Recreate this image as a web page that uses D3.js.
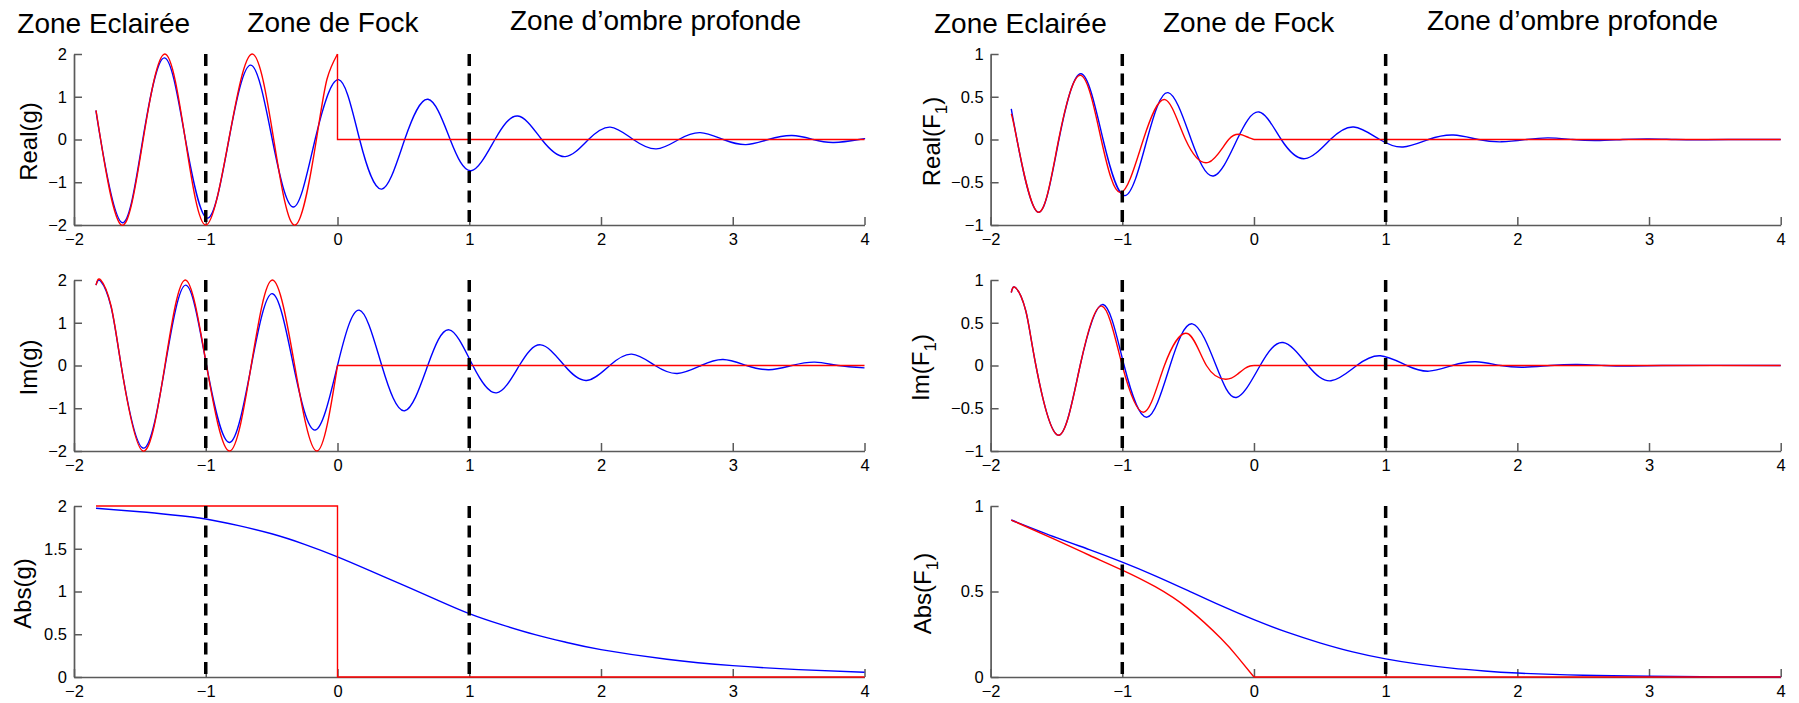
<!DOCTYPE html>
<html>
<head>
<meta charset="utf-8">
<script src="https://cdn.jsdelivr.net/npm/d3@7"></script>
<style>
  html, body { margin: 0; padding: 0; background: #fff; }
  svg { display: block; }
  text { font-family: "Liberation Sans", Arial, Helvetica, sans-serif; }
</style>
</head>
<body>
<svg id="fig" width="1799" height="703"></svg>
<script>
// ---------------------------------------------------------------
// Fock function g(x) and F1(x): exact (blue) vs. asymptotic (red)
// ---------------------------------------------------------------

const zoneTitles = ["Zone Eclairée", "Zone de Fock", "Zone d\u2019ombre profonde"];
const zoneBounds = [-1, 1];

const xTicks = [-2, -1, 0, 1, 2, 3, 4];
const xTickLabels = ["\u22122", "\u22121", "0", "1", "2", "3", "4"];
const gTicks = [-2, -1, 0, 1, 2];
const gTickLabels = ["\u22122", "\u22121", "0", "1", "2"];
const fTicks = [-1, -0.5, 0, 0.5, 1];
const fTickLabels = ["\u22121", "\u22120.5", "0", "0.5", "1"];
const absGTicks = [0, 0.5, 1, 1.5, 2];
const absGTickLabels = ["0", "0.5", "1", "1.5", "2"];
const absFTicks = [0, 0.5, 1];
const absFTickLabels = ["0", "0.5", "1"];

// Real(g)
const reG_exact = [[-1.833,0.68],[-1.798,0],[-1.638,-1.94],[-1.478,0],[-1.313,1.91],[-1.154,0],
  [-0.986,-1.84],[-0.824,0],[-0.658,1.74],[-0.495,0],[-0.333,-1.58],[-0.170,0],[0.008,1.40],
  [0.168,0],[0.336,-1.16],[0.51,0],[0.687,0.94],[0.855,0],[1.015,-0.73],[1.195,0],[1.369,0.55],
  [1.55,0],[1.729,-0.40],[1.905,0],[2.07,0.29],[2.245,0],[2.42,-0.22],[2.59,0],[2.753,0.16],
  [2.928,0],[3.10,-0.12],[3.27,0],[3.449,0.093],[3.61,0],[3.768,-0.07],[3.96,0],[4.0,0.02]];
const reG_approx = [[-1.833,0.68],[-1.798,0],[-1.640,-2],[-1.475,0],[-1.31,2],[-1.155,0],[-1.0,-2],
  [-0.825,0],[-0.648,2],[-0.484,0],[-0.32,-2],[-0.16,0],[-0.08,1.41],[0,2]];
const reG_approxShadow = [[0,2],[0,0],[4,0]];

// Im(g)
const imG_exact = [[-1.833,1.88],[-1.797,1.97],[-1.72,1.39],[-1.642,0],[-1.477,-1.93],[-1.308,0],[-1.151,1.88],
  [-0.994,0],[-0.82,-1.80],[-0.654,0],[-0.494,1.68],[-0.334,0],[-0.169,-1.51],[0.0,0],[0.165,1.294],
  [0.336,0],[0.51,-1.06],[0.685,0],[0.847,0.834],[1.027,0],[1.207,-0.64],[1.38,0],[1.543,0.483],
  [1.722,0],[1.891,-0.351],[2.066,0],[2.233,0.265],[2.41,0],[2.579,-0.187],[2.76,0],[2.927,0.14],
  [3.105,0],[3.275,-0.10],[3.449,0],[3.623,0.078],[3.80,0],[4.0,-0.056]];
const imG_approx = [[-1.833,1.88],[-1.797,2.0],[-1.72,1.41],[-1.642,0],[-1.477,-2],[-1.31,0],[-1.155,2],[-0.994,0],
  [-0.82,-2],[-0.655,0],[-0.494,2],[-0.325,0],[-0.157,-2],[0,0]];
const imG_approxShadow = [[0,0],[4,0]];

// Abs(g)
const absG_exact = [[-1.833,1.973],[-1.5,1.932],[-1.25,1.895],[-1.0,1.848],[-0.75,1.77],[-0.5,1.675],
  [-0.25,1.552],[0,1.406],[0.25,1.242],[0.5,1.074],[0.75,0.906],[1.0,0.742],[1.25,0.61],[1.5,0.496],
  [1.75,0.40],[2.0,0.32],[2.5,0.207],[3.0,0.133],[3.5,0.086],[4.0,0.055]];
const absG_approx = [[-1.833,2],[0,2],[0,0],[4,0]];

// Real(F1)
const reF_exact = [[-1.843,0.357],[-1.80,0],[-1.641,-0.85],[-1.481,0],[-1.312,0.769],[-1.146,0],
  [-0.978,-0.656],[-0.812,0],[-0.652,0.548],[-0.477,0],[-0.308,-0.427],[-0.128,0],[0.038,0.322],
  [0.207,0],[0.387,-0.224],[0.58,0],[0.758,0.146],[0.955,0],[1.132,-0.088],[1.325,0],[1.514,0.052],
  [1.704,0],[1.881,-0.027],[2.07,0],[2.235,0.019],[2.42,0],[2.60,-0.012],[2.8,0],[3.0,0.007],
  [3.2,0],[3.4,-0.003],[3.6,0],[4.0,0]];
const reF_approx = [[-1.843,0.30],[-1.80,0],[-1.641,-0.85],[-1.483,0],[-1.315,0.75],[-1.16,0],
  [-1.01,-0.62],[-0.84,0],[-0.675,0.466],[-0.52,0],[-0.346,-0.268],[-0.192,0],[-0.09,0.054],
  [-0.04,0.022],[0,0]];
const reF_approxShadow = [[0,0],[4,0]];

// Im(F1)
const imF_exact = [[-1.843,0.854],[-1.81,0.908],[-1.733,0.64],[-1.656,0],[-1.487,-0.815],[-1.32,0],[-1.146,0.713],
  [-0.986,0],[-0.812,-0.604],[-0.637,0],[-0.468,0.487],[-0.288,0],[-0.134,-0.374],[0.047,0],
  [0.221,0.269],[0.41,0],[0.585,-0.179],[0.78,0],[0.96,0.114],[1.16,0],[1.33,-0.066],[1.506,0],
  [1.684,0.043],[1.873,0],[2.05,-0.02],[2.25,0],[2.456,0.012],[2.66,0],[2.86,-0.006],[3.1,0],
  [3.5,0.002],[4.0,0]];
const imF_approx = [[-1.843,0.854],[-1.81,0.908],[-1.733,0.64],[-1.656,0],[-1.487,-0.815],[-1.32,0],[-1.155,0.694],
  [-1.0,0],[-0.835,-0.546],[-0.68,0],[-0.506,0.374],[-0.361,0],[-0.215,-0.16],[-0.128,-0.105],
  [-0.07,-0.035],[-0.03,-0.006],[0,0]];
const imF_approxShadow = [[0,0],[4,0]];

// Abs(F1)
const absF_exact = [[-1.843,0.918],[-1.5,0.815],[-1.25,0.745],[-1.0,0.672],[-0.75,0.592],[-0.5,0.505],
  [-0.25,0.417],[0,0.335],[0.25,0.262],[0.5,0.20],[0.75,0.147],[1.0,0.106],[1.25,0.075],[1.5,0.052],
  [1.75,0.035],[2.0,0.023],[2.5,0.010],[3.0,0.004],[3.5,0.001],[4.0,0.0]];
const absF_approx = [[-1.843,0.918],[-1.5,0.80],[-1.25,0.712],[-1.0,0.625],[-0.75,0.528],
  [-0.5,0.40],[-0.25,0.225],[-0.125,0.118],[0,0]];
const absF_approxShadow = [[0,0],[4,0]];

// ---------------------------------------------------------------
// Layout
// ---------------------------------------------------------------
const W = 1799, H = 703;
const colRange = [[74, 864.5], [990.6, 1780.7]];
const rowRange = [[54, 225], [280, 451], [506, 677]];
const titleX = [[17.3, 247.3, 510], [934, 1163, 1427]];
const titleBaseline = [33.3, 31.7, 29.8];
const axisColor = "#5a5a5a";
const BLUE = "#0000ff", RED = "#ff0000";

const panels = [
  { col: 0, row: 0, label: { main: "Real(g)" }, labelX: 37, dom: [-2, 2], ticks: gTicks, tickLabels: gTickLabels,
    exact: reG_exact, approx: [[reG_approx, d3.curveNatural], [reG_approxShadow, d3.curveLinear]] },
  { col: 0, row: 1, label: { main: "Im(g)" }, labelX: 37, dom: [-2, 2], ticks: gTicks, tickLabels: gTickLabels,
    exact: imG_exact, approx: [[imG_approx, d3.curveNatural], [imG_approxShadow, d3.curveLinear]] },
  { col: 0, row: 2, label: { main: "Abs(g)" }, labelX: 31, dom: [0, 2], ticks: absGTicks, tickLabels: absGTickLabels,
    exact: absG_exact, approx: [[absG_approx, d3.curveLinear]] },
  { col: 1, row: 0, label: { main: "Real(F", sub: "1", tail: ")" }, labelX: 940, dom: [-1, 1], ticks: fTicks, tickLabels: fTickLabels,
    exact: reF_exact, approx: [[reF_approx, d3.curveNatural], [reF_approxShadow, d3.curveLinear]] },
  { col: 1, row: 1, label: { main: "Im(F", sub: "1", tail: ")" }, labelX: 929, dom: [-1, 1], ticks: fTicks, tickLabels: fTickLabels,
    exact: imF_exact, approx: [[imF_approx, d3.curveNatural], [imF_approxShadow, d3.curveLinear]] },
  { col: 1, row: 2, label: { main: "Abs(F", sub: "1", tail: ")" }, labelX: 931, dom: [0, 1], ticks: absFTicks, tickLabels: absFTickLabels,
    exact: absF_exact, approx: [[absF_approx, d3.curveNatural], [absF_approxShadow, d3.curveLinear]] }
];

const svg = d3.select("#fig");
svg.append("rect").attr("width", W).attr("height", H).attr("fill", "#fff");

// zone titles above each column
[0, 1].forEach(c => {
  zoneTitles.forEach((t, i) => {
    svg.append("text")
      .attr("x", titleX[c][i])
      .attr("y", titleBaseline[i])
      .attr("font-size", 28)
      .attr("fill", "#000")
      .text(t);
  });
});

function styleAxis(g) {
  g.attr("font-size", null).attr("font-family", null);
  g.select(".domain").attr("stroke", axisColor).attr("stroke-width", 1.7);
  g.selectAll(".tick line").attr("stroke", axisColor).attr("stroke-width", 1.5);
  g.selectAll(".tick text").attr("fill", "#000").attr("font-size", 16.5);
}

panels.forEach(p => {
  const [x0, x1] = colRange[p.col];
  const [yTop, yBot] = rowRange[p.row];
  const x = d3.scaleLinear().domain([-2, 4]).range([x0, x1]);
  const y = d3.scaleLinear().domain(p.dom).range([yBot, yTop]);
  const g = svg.append("g");

  // axes (ticks pointing inward)
  g.append("g")
    .attr("transform", `translate(0,${yBot})`)
    .call(d3.axisBottom(x).tickValues(xTicks).tickFormat((d, i) => xTickLabels[i])
      .tickSizeInner(-8).tickSizeOuter(0).tickPadding(8))
    .call(styleAxis);
  g.append("g")
    .attr("transform", `translate(${x0},0)`)
    .call(d3.axisLeft(y).tickValues(p.ticks).tickFormat((d, i) => p.tickLabels[i])
      .tickSizeInner(-8).tickSizeOuter(0).tickPadding(7))
    .call(styleAxis);

  // y label, rotated
  const lab = g.append("text")
    .attr("transform", `translate(${p.labelX},${(yTop + yBot) / 2 + 2}) rotate(-90)`)
    .attr("text-anchor", "middle")
    .attr("font-size", 24)
    .attr("fill", "#000");
  lab.append("tspan").text(p.label.main);
  if (p.label.sub) {
    lab.append("tspan").attr("dy", 7).attr("font-size", 17).text(p.label.sub);
    lab.append("tspan").attr("dy", -7).text(p.label.tail);
  }

  // exact solution (blue)
  g.append("path")
    .datum(p.exact)
    .attr("fill", "none")
    .attr("stroke", BLUE)
    .attr("stroke-width", 1.4)
    .attr("d", d3.line().x(d => x(d[0])).y(d => y(d[1])).curve(d3.curveNatural));

  // asymptotic approximation (red)
  p.approx.forEach(([pts, curve]) => {
    g.append("path")
      .datum(pts)
      .attr("fill", "none")
      .attr("stroke", RED)
      .attr("stroke-width", 1.4)
      .attr("d", d3.line().x(d => x(d[0])).y(d => y(d[1])).curve(curve));
  });

  // zone boundaries
  zoneBounds.forEach(b => {
    g.append("line")
      .attr("x1", x(b)).attr("x2", x(b))
      .attr("y1", y(p.dom[1])).attr("y2", y(p.dom[0]))
      .attr("stroke", "#000")
      .attr("stroke-width", 3.5)
      .attr("stroke-dasharray", "12,7.5");
  });
});
</script>
</body>
</html>
